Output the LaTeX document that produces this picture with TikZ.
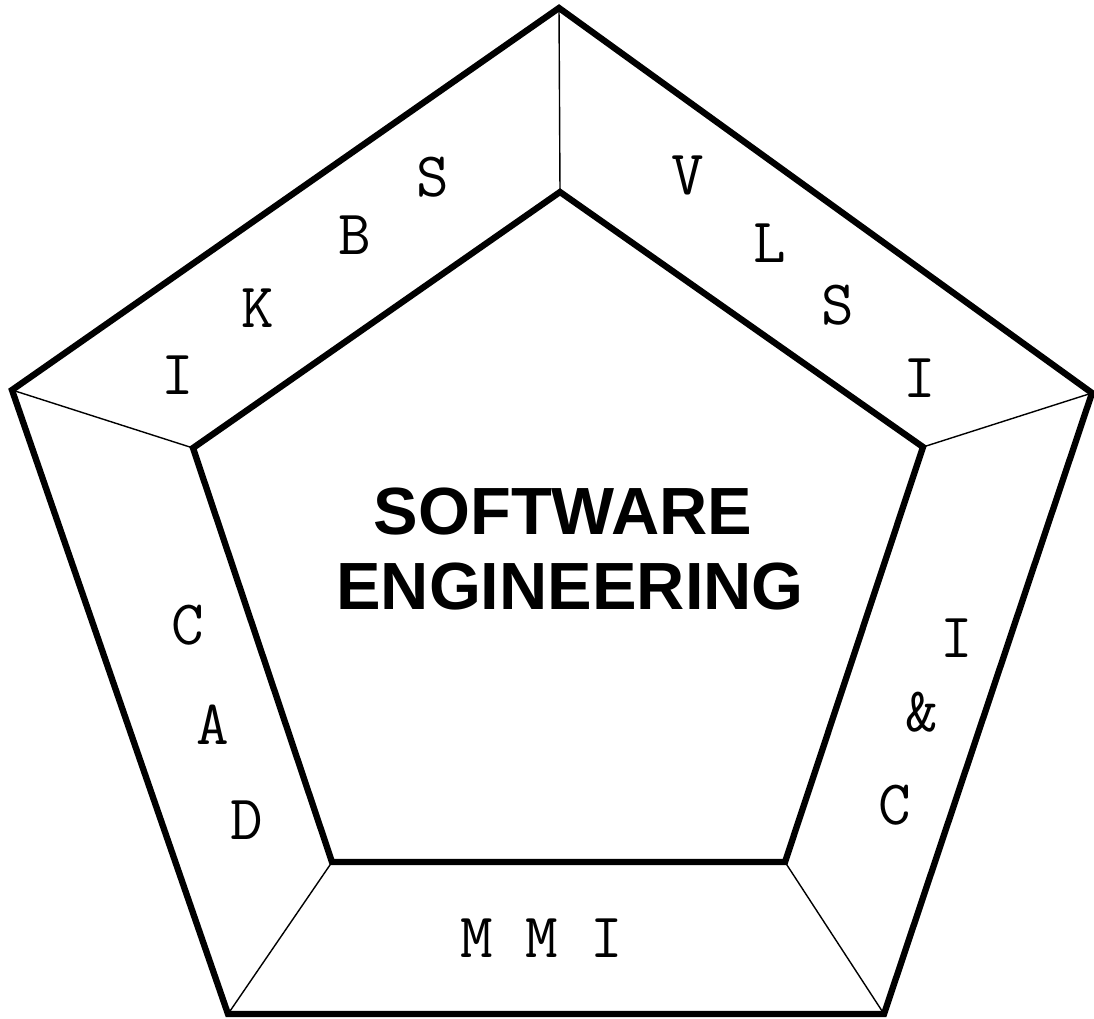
\documentclass[tikz,border=0pt]{standalone}
\usepackage{fontspec}
\setmainfont{Liberation Sans}
\tikzset{
  frame/.style={line width=3.6pt, line join=miter},
  spoke/.style={line width=0.8pt},
  letter/.style={font=\ttfamily\fontsize{36}{36}\selectfont, inner sep=0pt},
  title/.style={font=\bfseries\fontsize{38}{38}\selectfont, inner sep=0pt}
}
\begin{document}
\begin{tikzpicture}[x=0.02cm, y=-0.02cm]
\useasboundingbox (0,0) rectangle (1094,1018);
% outer and inner pentagons
\coordinate (o1) at (559,8);
\coordinate (o2) at (1092,393);
\coordinate (o3) at (884,1014);
\coordinate (o4) at (228,1014);
\coordinate (o5) at (12,390);
\coordinate (i1) at (560,192);
\coordinate (i2) at (923,447);
\coordinate (i3) at (785,862);
\coordinate (i4) at (332,862);
\coordinate (i5) at (193,448);
\foreach \k in {1,...,5}
  \draw[spoke] (o\k) -- (i\k);
\draw[frame] (o1) -- (o2) -- (o3) -- (o4) -- (o5) -- cycle;
\draw[frame] (i1) -- (i2) -- (i3) -- (i4) -- (i5) -- cycle;
% letters
\node[letter] (s1) at (433,177) {S};
\node[letter] (b) at (355,235) {B};
\node[letter] (k) at (258,308) {K};
\node[letter] (i1t) at (178,375) {I};
\node[letter] (v) at (688,175) {V};
\node[letter] (l) at (770,243) {L};
\node[letter] (s2) at (838,305) {S};
\node[letter] (i2t) at (920,378) {I};
\node[letter] (c1) at (188,625) {C};
\node[letter] (a) at (213,725) {A};
\node[letter] (d) at (247,820) {D};
\node[letter] (i3t) at (957,638) {I};
\node[letter] (amp) at (922,712) {\&};
\node[letter] (c2) at (895,805) {C};
\node[letter] (mmi) at (542,938) {M M I};
% title
\node[title] (sw) at (563,512) {SOFTWARE};
\node[title] (eng) at (570,587) {ENGINEERING};
\end{tikzpicture}
\end{document}
